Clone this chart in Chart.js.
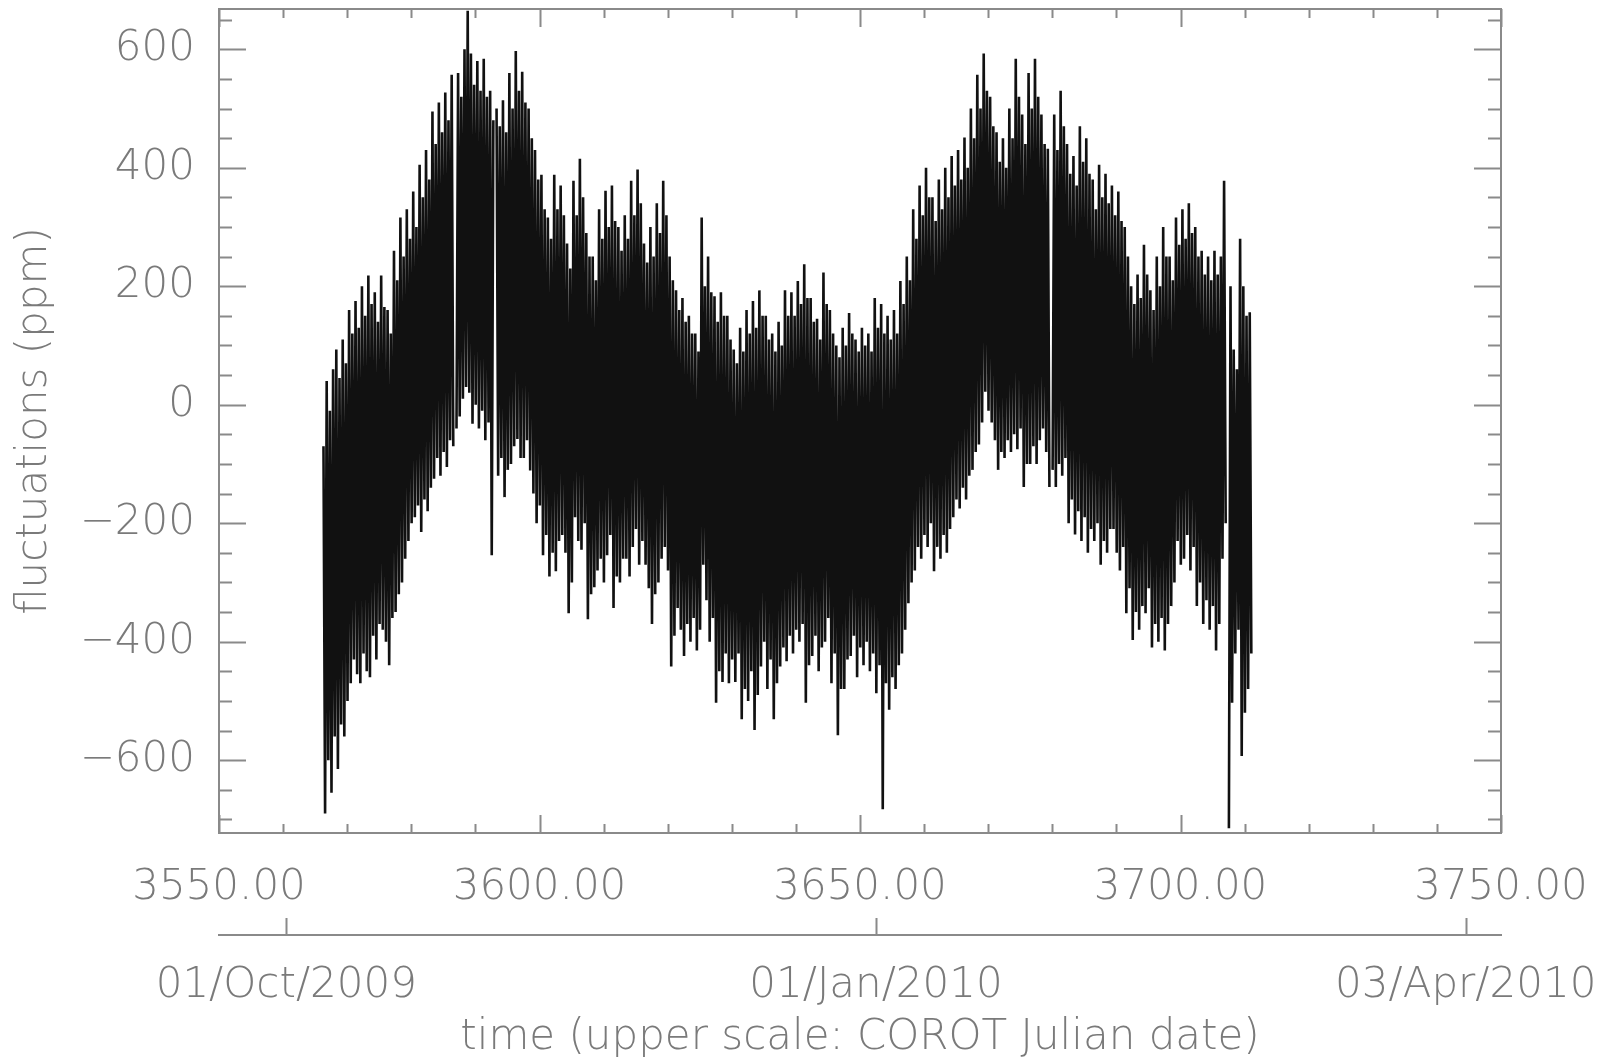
<!DOCTYPE html>
<html>
<head>
<meta charset="utf-8">
<script src="https://cdn.jsdelivr.net/npm/chart.js@4.4.1/dist/chart.umd.min.js"></script>
<style>
  html, body { margin: 0; padding: 0; background: #fff; }
  canvas { display: block; }
</style>
</head>
<body>
<canvas id="chart1" width="1623" height="1063"></canvas>
<script>
// light curve: first sample time and sampling step (days), then fluctuations (ppm), one row per day
const t0 = 3566.3;
const cadence = 0.25;
const flux = [
  -70, -690, 40, -600,
  -10, -655, 60, -560,
  93, -615, 45, -540,
  110, -560, 70, -500,
  160, -470, 120, -430,
  175, -455, 130, -470,
  200, -420, 150, -450,
  218, -460, 170, -390,
  190, -430, 140, -370,
  218, -380, 165, -400,
  160, -440, 120, -360,
  260, -350, 210, -320,
  316, -300, 250, -260,
  330, -230, 280, -200,
  360, -190, 300, -170,
  405, -215, 350, -160,
  430, -180, 380, -140,
  495, -125, 440, -90,
  510, -120, 460, -80,
  527, -105, 480, -60,
  557, -70, null, -40,
  560, -20, 520, 10,
  600, 30, 665, 20,
  593, -32, 540, 0,
  580, -40, 530, -10,
  584, -60, 520, -30,
  530, -254, 480, null,
  500, -120, 470, -90,
  514, -156, 460, -110,
  560, -100, 500, -70,
  597, -58, 530, -90,
  562, -90, 510, -60,
  500, -111, 450, -150,
  430, -200, 380, -170,
  388, -254, 330, -220,
  316, -290, 280, -250,
  388, -281, 330, -230,
  370, -220, 320, -250,
  272, -352, 230, -300,
  378, -190, 320, -230,
  415, -245, 350, -200,
  290, -362, 250, -320,
  250, -308, 210, -280,
  330, -260, 280, -300,
  361, -254, 300, -220,
  370, -343, 310, -290,
  300, -300, 260, -260,
  320, -260, 280, -290,
  378, -240, 320, -210,
  397, -270, 340, -230,
  272, -270, 240, -310,
  300, -370, 250, -320,
  340, -300, 290, -260,
  378, -240, 320, -280,
  250, -442, 210, -390,
  193, -343, 160, -380,
  180, -424, 140, -370,
  150, -400, 120, -360,
  120, -415, 90, -380,
  316, -270, 200, -330,
  250, -400, 190, -360,
  183, -503, 140, -450,
  190, -468, 150, -420,
  150, -470, 110, -430,
  93, -468, 70, -420,
  130, -531, 90, -480,
  160, -500, 120, -450,
  175, -549, 130, -490,
  193, -442, 150, -400,
  150, -480, 110, -430,
  120, -531, 90, -470,
  140, -442, 100, -410,
  193, -433, 150, -390,
  190, -420, 150, -380,
  209, -400, 170, -370,
  237, -503, 180, -440,
  180, -424, 140, -390,
  145, -450, 110, -410,
  223, -400, 170, -360,
  160, -470, 120, -420,
  100, -558, 80, -480,
  130, -480, 100, -430,
  155, -424, 120, -390,
  110, -460, 90, -410,
  130, -440, 100, -400,
  120, -450, 90, -420,
  180, -487, 130, -440,
  170, -683, 120, -470,
  150, -515, 110, -460,
  160, -480, 120, -440,
  209, -420, 170, -380,
  250, -335, 210, -300,
  330, -280, 280, -240,
  370, -260, 320, -220,
  400, -240, 350, -200,
  350, -281, 310, -240,
  380, -260, 330, -220,
  400, -250, 350, -210,
  420, -190, 370, -160,
  430, -175, 380, -140,
  451, -160, 400, -120,
  500, -110, 450, -80,
  557, -67, 500, -30,
  593, 22, 530, -10,
  520, -30, 470, -60,
  460, -110, 410, -80,
  450, -90, 400, -60,
  500, -80, 450, -50,
  584, -75, 520, -40,
  490, -139, 440, -100,
  560, -100, 500, -70,
  584, -100, 520, -60,
  490, -40, 440, -80,
  432, -139, null, -110,
  490, -139, 430, -100,
  530, -120, 470, -90,
  440, -200, 390, -160,
  420, -219, 370, -180,
  470, -230, 410, -190,
  450, -250, 390, -210,
  380, -230, 330, -200,
  405, -270, 350, -230,
  390, -250, 340, -210,
  370, -210, 320, -250,
  360, -280, 310, -240,
  300, -352, 250, -310,
  200, -397, 170, -350,
  220, -380, 180, -340,
  270, -352, 220, -310,
  193, -410, 160, -370,
  250, -400, 200, -360,
  300, -415, 250, -370,
  250, -340, 210, -300,
  316, -230, 270, -270,
  330, -260, 280, -220,
  340, -280, 290, -240,
  300, -340, 250, -300,
  260, -370, 220, -330,
  250, -380, 210, -340,
  260, -415, 220, -370,
  250, -260, 378, -200,
  null, -715, 200, -503,
  93, -420, 60, -380,
  280, -593, 200, -520,
  150, -480, 156, -420
];

const xTicks = [3550, 3600, 3650, 3700, 3750];
const xTickLabels = ['3550.00', '3600.00', '3650.00', '3700.00', '3750.00'];
const yTicks = [-600, -400, -200, 0, 200, 400, 600];
const yTickLabels = ['\u2212600', '\u2212400', '\u2212200', '0', '200', '400', '600'];
const dateTicks = [3560.5, 3652.5, 3744.5];
const dateLabels = ['01/Oct/2009', '01/Jan/2010', '03/Apr/2010'];

const axisColor = '#8a8a8a';
const textColor = '#7a7a7a';
const font = { family: "'DejaVu Sans', sans-serif", size: 42, weight: '200' };

const points = flux.map((v, i) => ({ x: t0 + i * cadence, y: v }));

// IDL-style box with inward ticks on all four sides, plus ticks on the date axis
const frame = {
  id: 'frame',
  afterDatasetsDraw(chart) {
    const { ctx, chartArea: a, scales } = chart;
    const x = scales.x, y = scales.y, x2 = scales.x2;
    ctx.save();
    ctx.strokeStyle = axisColor;
    ctx.lineWidth = 2;
    ctx.strokeRect(a.left, a.top, a.right - a.left, a.bottom - a.top);
    ctx.beginPath();
    for (let v = x.min; v <= x.max + 0.01; v += 10) {
      const px = Math.round(x.getPixelForValue(v)) + 0.5;
      const len = (Math.round(v) % 50 === 0) ? 18 : 9;
      ctx.moveTo(px, a.bottom); ctx.lineTo(px, a.bottom - len);
      ctx.moveTo(px, a.top); ctx.lineTo(px, a.top + len);
    }
    for (let v = -700; v <= 650; v += 50) {
      const py = Math.round(y.getPixelForValue(v)) + 0.5;
      const len = (v % 200 === 0) ? 27 : 13;
      ctx.moveTo(a.left, py); ctx.lineTo(a.left + len, py);
      ctx.moveTo(a.right, py); ctx.lineTo(a.right - len, py);
    }
    dateTicks.forEach(d => {
      const px = Math.round(x2.getPixelForValue(d)) + 0.5;
      ctx.moveTo(px, x2.top); ctx.lineTo(px, x2.top - 17);
    });
    ctx.stroke();
    ctx.restore();
  }
};

new Chart(document.getElementById('chart1'), {
  type: 'line',
  data: {
    datasets: [{
      data: points,
      borderColor: '#111111',
      borderWidth: 2.6,
      borderJoinStyle: 'miter',
      pointRadius: 0,
      tension: 0,
      spanGaps: false
    }]
  },
  options: {
    responsive: false,
    animation: false,
    devicePixelRatio: 1,
    layout: { padding: { top: 9, right: 122, bottom: 0, left: 0 } },
    plugins: { legend: { display: false }, tooltip: { enabled: false } },
    scales: {
      x: {
        type: 'linear', position: 'bottom', weight: 0,
        min: 3550, max: 3750,
        grid: { display: false },
        border: { display: false },
        afterBuildTicks: s => { s.ticks = xTicks.map(v => ({ value: v })); },
        afterFit: s => { s.height = 102; s.paddingLeft = 0; s.paddingRight = 0; },
        ticks: {
          autoSkip: false, maxRotation: 0, padding: 22,
          color: textColor, font: font,
          callback: (v, i) => xTickLabels[i]
        }
      },
      x2: {
        type: 'linear', position: 'bottom', weight: 1,
        min: 3550, max: 3750,
        grid: { display: false },
        border: { display: true, color: axisColor, width: 2 },
        afterBuildTicks: s => { s.ticks = dateTicks.map(v => ({ value: v })); },
        afterFit: s => { s.height = 128; s.paddingLeft = 0; s.paddingRight = 0; },
        ticks: {
          autoSkip: false, maxRotation: 0, padding: 18,
          color: textColor, font: font,
          callback: (v, i) => dateLabels[i]
        },
        title: {
          display: true,
          text: 'time (upper scale: COROT Julian date)',
          color: textColor, font: font,
          padding: { top: 0, bottom: 0 }
        }
      },
      y: {
        type: 'linear', position: 'left',
        min: -723, max: 668,
        grid: { display: false },
        border: { display: false },
        afterBuildTicks: s => { s.ticks = yTicks.map(v => ({ value: v })); },
        afterFit: s => { s.width = 219; s.paddingTop = 0; s.paddingBottom = 0; },
        ticks: {
          padding: 16, color: textColor, font: font,
          callback: (v, i) => yTickLabels[i]
        },
        title: {
          display: true,
          text: 'fluctuations (ppm)',
          color: textColor, font: font,
          padding: { top: 10, bottom: 0 }
        }
      }
    }
  },
  plugins: [frame]
});
</script>
</body>
</html>
